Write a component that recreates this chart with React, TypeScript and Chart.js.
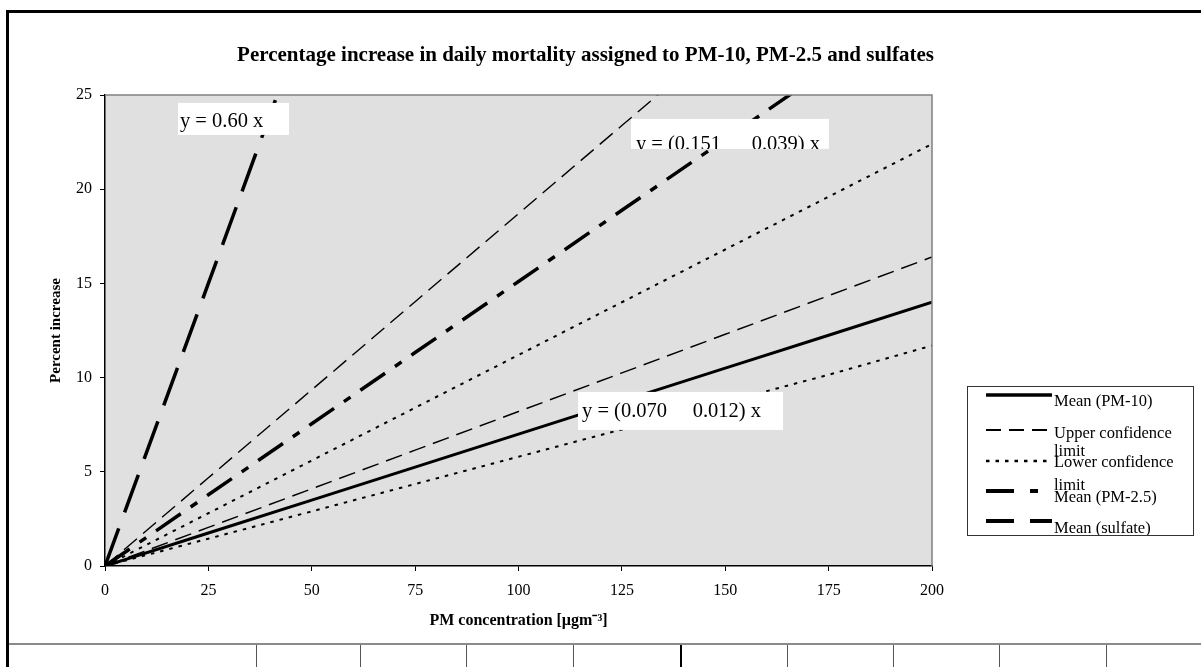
import React, { useEffect, useRef } from "react";
import { Chart, registerables } from "chart.js";

Chart.register(...registerables);

// ---- data ----
const concentrations = [0, 25, 50, 75, 100, 125, 150, 175, 200];
const pm10Mean = [0, 1.75, 3.5, 5.25, 7.0, 8.75, 10.5, 12.25, 14.0];
const pm10Upper = [0, 2.05, 4.1, 6.15, 8.2, 10.25, 12.3, 14.35, 16.4];
const pm10Lower = [0, 1.45, 2.9, 4.35, 5.8, 7.25, 8.7, 10.15, 11.7];
const pm25Mean = [0, 3.78, 7.55, 11.33, 15.1, 18.88, 22.65, 26.43, 30.2];
const pm25Upper = [0, 4.68, 9.35, 14.03, 18.7, 23.38, 28.05, 32.73, 37.4];
const pm25Lower = [0, 2.8, 5.6, 8.4, 11.2, 14.0, 16.8, 19.6, 22.4];
const sulfateMean = [0, 15, 30, 45, 60, 75, 90, 105, 120];

const xTicks = [0, 25, 50, 75, 100, 125, 150, 175, 200];
const yTicks = [0, 5, 10, 15, 20, 25];

const chartTitle = "Percentage increase in daily mortality assigned to PM-10, PM-2.5 and sulfates";
const xTitle = "PM concentration [\u00B5gm\u207B\u00B3]";
const yTitle = "Percent increase";

const legendLabels = [
  ["Mean (PM-10)"],
  ["Upper confidence", "limit"],
  ["Lower confidence", "limit"],
  ["Mean (PM-2.5)"],
  ["Mean (sulfate)"],
];

const annotationTexts = ["y = 0.60 x", "y = (0.151      0.039) x", "y = (0.070     0.012) x"];
const annotationAnchors = [
  { x: 17.65, y: 24.58 },
  { x: 127.2, y: 23.73 },
  { x: 114.4, y: 9.24 },
];

// ---- styles ----
const FONT = "'Liberation Serif', 'Times New Roman', serif";
const STYLE_MEAN10 = { borderWidth: 3, borderDash: [] as number[] };
const STYLE_UPPER = { borderWidth: 1.4, borderDash: [17, 8] };
const STYLE_LOWER = { borderWidth: 2, borderDash: [3.5, 6] };
const STYLE_MEAN25 = { borderWidth: 3.5, borderDash: [30, 12, 8, 12] };
const STYLE_SULF = { borderWidth: 3.5, borderDash: [40, 17] };
const legendStyles = [STYLE_MEAN10, STYLE_UPPER, STYLE_LOWER, STYLE_MEAN25, STYLE_SULF];
const legendDashes = [[], [15, 8], [3.5, 6], [28, 16, 8, 16], [28, 16]];

const annotationBoxes = [
  { w: 111, h: 32, tx: 2, ty: 24 },
  { w: 198, h: 30, tx: 5, ty: 31 },
  { w: 205, h: 38, tx: 4, ty: 25 },
];

const toPoints = (ys: number[]) => concentrations.map((x, i) => ({ x, y: ys[i] }));

const decorPlugin = {
  id: "decor",
  beforeDraw(chart: any) {
    const { ctx, chartArea: a, width, height } = chart;
    ctx.save();
    ctx.fillStyle = "#ffffff";
    ctx.fillRect(0, 0, width, height);
    ctx.fillStyle = "#e0e0e0";
    ctx.fillRect(a.left, a.top, a.right - a.left, a.bottom - a.top);
    // page frame
    ctx.fillStyle = "#000";
    ctx.fillRect(6, 10, 3, height - 10);
    ctx.fillRect(6, 10, width - 6, 3);
    ctx.fillStyle = "#8a8a8a";
    ctx.fillRect(9, 643, width - 9, 2);
    const seps = [256, 360, 466, 573, 680, 787, 893, 999, 1106];
    seps.forEach((sx) => {
      ctx.fillStyle = sx === 680 ? "#000" : "#555";
      ctx.fillRect(sx, 645, sx === 680 ? 2 : 1, height - 645);
    });
    ctx.restore();
  },
  afterDatasetsDraw(chart: any) {
    const { ctx, chartArea: a, scales } = chart;
    ctx.save();
    // plot area top / right border
    ctx.strokeStyle = "#808080";
    ctx.lineWidth = 1.5;
    ctx.beginPath();
    ctx.moveTo(a.left, a.top);
    ctx.lineTo(a.right, a.top);
    ctx.lineTo(a.right, a.bottom);
    ctx.stroke();

    // equation labels
    ctx.font = `20.5px ${FONT}`;
    ctx.textBaseline = "alphabetic";
    ctx.textAlign = "left";
    annotationTexts.forEach((t, i) => {
      const px = scales.x.getPixelForValue(annotationAnchors[i].x);
      const py = scales.y.getPixelForValue(annotationAnchors[i].y);
      const b = annotationBoxes[i];
      ctx.save();
      ctx.fillStyle = "#ffffff";
      ctx.fillRect(px, py, b.w, b.h);
      ctx.beginPath();
      ctx.rect(px, py, b.w, b.h);
      ctx.clip();
      ctx.fillStyle = "#000";
      ctx.fillText(t, px + b.tx, py + b.ty);
      ctx.restore();
    });

    // legend
    const lx = 967, ly = 386, lw = 226, lh = 149;
    ctx.fillStyle = "#ffffff";
    ctx.fillRect(lx, ly, lw, lh);
    ctx.strokeStyle = "#333";
    ctx.lineWidth = 1;
    ctx.strokeRect(lx + 0.5, ly + 0.5, lw, lh);
    const sampleY = [395, 430, 461, 491, 521];
    const textBase = [[406], [438, 456], [467, 490], [502], [533]];
    ctx.save();
    ctx.beginPath();
    ctx.rect(lx, ly, lw, lh);
    ctx.clip();
    legendLabels.forEach((lines, i) => {
      const st = legendStyles[i];
      ctx.strokeStyle = "#000";
      ctx.lineWidth = st.borderWidth + 0.5;
      ctx.setLineDash(legendDashes[i]);
      ctx.beginPath();
      ctx.moveTo(986, sampleY[i]);
      ctx.lineTo(1052, sampleY[i]);
      ctx.stroke();
      ctx.setLineDash([]);
      ctx.fillStyle = "#000";
      ctx.font = `16.5px ${FONT}`;
      lines.forEach((ln, j) => ctx.fillText(ln, 1054, textBase[i][j]));
    });
    ctx.restore();
    ctx.restore();
  },
};

export default function App() {
  const ref = useRef<HTMLCanvasElement | null>(null);
  useEffect(() => {
    if (!ref.current) return;
    const mk = (label: string, ys: number[], st: any) => ({
      label,
      data: toPoints(ys),
      borderColor: "#000",
      backgroundColor: "#000",
      borderWidth: st.borderWidth,
      borderDash: st.borderDash,
      borderCapStyle: "butt",
      pointRadius: 0,
      tension: 0,
      fill: false,
    });
    const chart = new Chart(ref.current, {
      type: "line",
      data: {
        datasets: [
          mk("Mean (PM-10)", pm10Mean, STYLE_MEAN10),
          mk("Upper confidence limit (PM-10)", pm10Upper, STYLE_UPPER),
          mk("Lower confidence limit (PM-10)", pm10Lower, STYLE_LOWER),
          mk("Mean (PM-2.5)", pm25Mean, STYLE_MEAN25),
          mk("Upper confidence limit (PM-2.5)", pm25Upper, STYLE_UPPER),
          mk("Lower confidence limit (PM-2.5)", pm25Lower, STYLE_LOWER),
          mk("Mean (sulfate)", sulfateMean, STYLE_SULF),
        ] as any,
      },
      options: {
        animation: false,
        responsive: false,
        events: [],
        layout: { padding: { left: 0, right: 30, top: 0, bottom: 0 }, autoPadding: false },
        plugins: {
          legend: { display: false },
          tooltip: { enabled: false },
          title: {
            display: true,
            text: chartTitle,
            color: "#000",
            font: { family: FONT, size: 21, weight: "bold" },
            padding: { top: 43, bottom: 26.8 },
          },
        },
        scales: {
          x: {
            type: "linear",
            min: 0,
            max: 200,
            afterBuildTicks: (s: any) => {
              s.ticks = xTicks.map((v) => ({ value: v }));
            },
            afterFit: (s: any) => {
              s.height = 101;
            },
            grid: { display: true, drawOnChartArea: false, drawTicks: true, tickLength: 5, color: "#000", lineWidth: 1 },
            border: { display: true, color: "#000", width: 1.5 },
            ticks: { color: "#000", font: { family: FONT, size: 16 }, padding: 10, maxRotation: 0 },
            title: {
              display: true,
              text: xTitle,
              color: "#000",
              font: { family: FONT, size: 16, weight: "bold" },
              padding: { top: 0, bottom: 37 },
            },
          },
          y: {
            type: "linear",
            min: 0,
            max: 25,
            afterBuildTicks: (s: any) => {
              s.ticks = yTicks.map((v) => ({ value: v }));
            },
            afterFit: (s: any) => {
              s.width = 105;
            },
            grid: { display: true, drawOnChartArea: false, drawTicks: true, tickLength: 5, color: "#000", lineWidth: 1 },
            border: { display: true, color: "#000", width: 1.5 },
            ticks: { color: "#000", font: { family: FONT, size: 16 }, padding: 8 },
            title: {
              display: true,
              text: yTitle,
              color: "#000",
              font: { family: FONT, size: 15, weight: "bold" },
              padding: { top: 47, bottom: 0 },
            },
          },
          y2: {
            type: "linear",
            position: "right",
            display: true,
            min: 0,
            max: 25,
            afterFit: (s: any) => {
              s.width = 239;
            },
            grid: { display: false },
            border: { display: false },
            ticks: { display: false },
          },
        },
      } as any,
      plugins: [decorPlugin],
    });
    return () => chart.destroy();
  }, []);
  return (
    <div style={{ position: "absolute", left: 0, top: 0, width: 1201, height: 667 }}>
      <canvas ref={ref} width={1201} height={667} style={{ display: "block" }} />
    </div>
  );
}
